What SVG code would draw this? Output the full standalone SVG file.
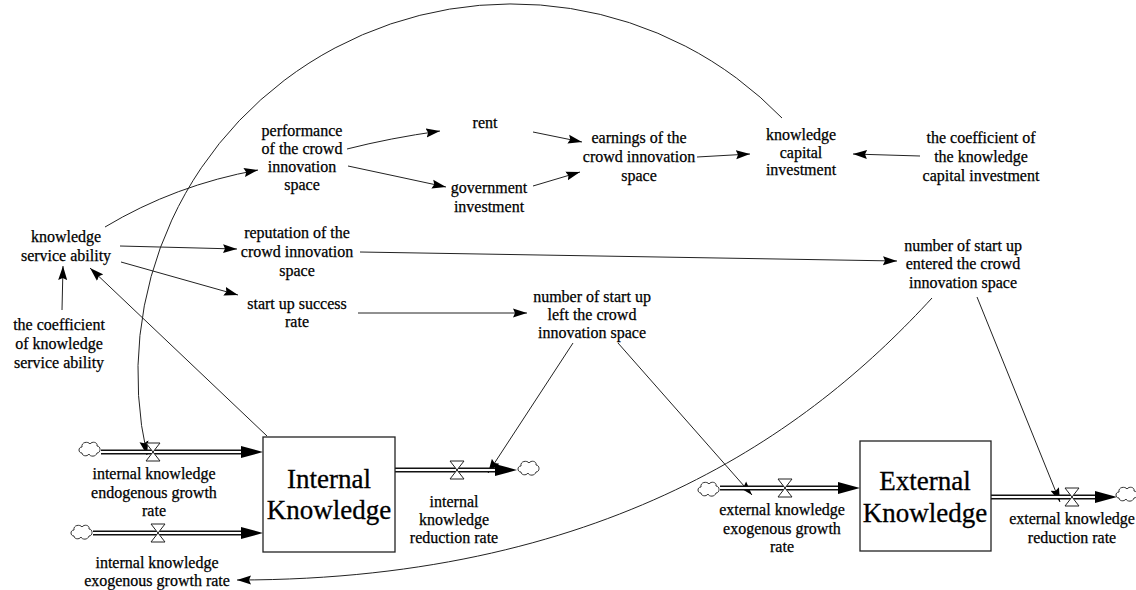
<svg xmlns="http://www.w3.org/2000/svg" width="1136" height="590" viewBox="0 0 1136 590">
<style>
text{font-family:"Liberation Serif","Times New Roman",serif;fill:#000;text-anchor:middle;stroke:#000;stroke-width:0.25}
.t{font-size:16px}
.big{font-size:27px;stroke-width:0.3}
.c{fill:none;stroke:#222;stroke-width:1}
.box{fill:#fff;stroke:#222;stroke-width:1.3}
.pipeo{fill:none;stroke:#111;stroke-width:5}
.pipei{fill:none;stroke:#fff;stroke-width:1.8}
.fa{fill:#000}
.valve{fill:#fff;stroke:#222;stroke-width:1}
.cloud{fill:#fff;stroke:#333;stroke-width:1}
</style>
<defs>
<marker id="a" markerWidth="14" markerHeight="10" refX="14" refY="5" orient="auto" markerUnits="userSpaceOnUse"><path d="M0,0.5 L14,5 L0,9.5 L2,5 Z" fill="#000"/></marker>
<path id="cl" class="cloud" d="M-8,4 C-12,4 -12,-2 -8,-2 C-9,-7 -2,-8 0,-5 C2,-8 8,-7 7,-3 C11,-3 11,4 7,4 C6,8 0,8 -1,5 C-3,8 -8,7 -8,4 Z"/>
<path id="vl" class="valve" d="M-7,-9 H7 L-7,9 H7 Z"/>
</defs>

<g id="connectors">
<path class="c" marker-end="url(#a)" d="M782,118 A374,370 0 0 0 147,455"/>
<path class="c" marker-end="url(#a)" d="M932,298 C820,420 620,580 237,580"/>
<path class="c" marker-end="url(#a)" d="M105,227 Q175,185 258,170"/>
<path class="c" marker-end="url(#a)" d="M120,246 L237,249"/>
<path class="c" marker-end="url(#a)" d="M121,262 L238,295"/>
<path class="c" marker-end="url(#a)" d="M62,310 L63,266"/>
<path class="c" marker-end="url(#a)" d="M267,436 L90,268"/>
<path class="c" marker-end="url(#a)" d="M347,149 Q390,138 440,131"/>
<path class="c" marker-end="url(#a)" d="M348,166 Q395,176 446,187"/>
<path class="c" marker-end="url(#a)" d="M533,132 L582,142"/>
<path class="c" marker-end="url(#a)" d="M533,186 L580,172"/>
<path class="c" marker-end="url(#a)" d="M697,157 L750,154"/>
<path class="c" marker-end="url(#a)" d="M920,156 L853,154"/>
<path class="c" marker-end="url(#a)" d="M360,252 L897,261"/>
<path class="c" marker-end="url(#a)" d="M358,313 L527,313"/>
<path class="c" marker-end="url(#a)" d="M573,343 L488,473"/>
<path class="c" marker-end="url(#a)" d="M618,343 L752,495"/>
<path class="c" marker-end="url(#a)" d="M977,297 L1060,502"/>
</g>

<g id="flow-internal-endogenous">
<use href="#cl" x="90" y="449"/>
<path class="pipeo" d="M101,452 H245"/><path class="pipei" d="M101,452 H245"/>
<polygon class="fa" points="241,446 263,452 241,458"/>
<use href="#vl" x="153" y="452"/>
<text class="t"><tspan x="154" y="479">internal knowledge</tspan><tspan x="154" y="498">endogenous growth</tspan><tspan x="154" y="516">rate</tspan></text>
</g>
<g id="flow-internal-exogenous">
<use href="#cl" x="82" y="532"/>
<path class="pipeo" d="M93,533 H245"/><path class="pipei" d="M93,533 H245"/>
<polygon class="fa" points="241,527 263,533 241,539"/>
<use href="#vl" x="158" y="533"/>
<text class="t"><tspan x="157" y="568">internal knowledge</tspan><tspan x="157" y="586">exogenous growth rate</tspan></text>
</g>
<g id="flow-internal-reduction">
<path class="pipeo" d="M395,470 H500"/><path class="pipei" d="M395,470 H500"/>
<polygon class="fa" points="495,464 517,470 495,476"/>
<use href="#cl" x="529" y="468"/>
<use href="#vl" x="457" y="470"/>
<text class="t"><tspan x="454" y="507">internal</tspan><tspan x="454" y="525">knowledge</tspan><tspan x="454" y="543">reduction rate</tspan></text>
</g>
<g id="flow-external-exogenous">
<use href="#cl" x="709" y="489"/>
<path class="pipeo" d="M720,488 H842"/><path class="pipei" d="M720,488 H842"/>
<polygon class="fa" points="838,482 860,488 838,494"/>
<use href="#vl" x="785" y="488"/>
<text class="t"><tspan x="782" y="515">external knowledge</tspan><tspan x="782" y="534">exogenous growth</tspan><tspan x="782" y="552">rate</tspan></text>
</g>
<g id="flow-external-reduction">
<path class="pipeo" d="M991,497 H1100"/><path class="pipei" d="M991,497 H1100"/>
<polygon class="fa" points="1095,491 1117,497 1095,503"/>
<use href="#cl" x="1127" y="494"/>
<use href="#vl" x="1072" y="497"/>
<text class="t"><tspan x="1072" y="524">external knowledge</tspan><tspan x="1072" y="543">reduction rate</tspan></text>
</g>

<g id="internal-knowledge">
<rect class="box" x="263" y="437" width="132" height="115"/>
<text class="big"><tspan x="329" y="488">Internal</tspan><tspan x="329" y="519">Knowledge</tspan></text>
</g>
<g id="external-knowledge">
<rect class="box" x="860" y="441" width="131" height="110"/>
<text class="big"><tspan x="925" y="490">External</tspan><tspan x="925" y="522">Knowledge</tspan></text>
</g>

<g id="performance"><text class="t"><tspan x="302" y="136">performance</tspan><tspan x="302" y="154">of the crowd</tspan><tspan x="302" y="172">innovation</tspan><tspan x="302" y="190">space</tspan></text></g>
<g id="rent"><text class="t"><tspan x="485" y="128">rent</tspan></text></g>
<g id="government-investment"><text class="t"><tspan x="489" y="193">government</tspan><tspan x="489" y="212">investment</tspan></text></g>
<g id="earnings"><text class="t"><tspan x="639" y="143">earnings of the</tspan><tspan x="639" y="162">crowd innovation</tspan><tspan x="639" y="181">space</tspan></text></g>
<g id="knowledge-capital-investment"><text class="t"><tspan x="801" y="140">knowledge</tspan><tspan x="801" y="158">capital</tspan><tspan x="801" y="175">investment</tspan></text></g>
<g id="coef-kci"><text class="t"><tspan x="981" y="143">the coefficient of</tspan><tspan x="981" y="162">the knowledge</tspan><tspan x="981" y="181">capital investment</tspan></text></g>
<g id="knowledge-service-ability"><text class="t"><tspan x="66" y="242">knowledge</tspan><tspan x="66" y="261">service ability</tspan></text></g>
<g id="coef-ksa"><text class="t"><tspan x="59" y="330">the coefficient</tspan><tspan x="59" y="349">of knowledge</tspan><tspan x="59" y="368">service ability</tspan></text></g>
<g id="reputation"><text class="t"><tspan x="297" y="238">reputation of the</tspan><tspan x="297" y="257">crowd innovation</tspan><tspan x="297" y="276">space</tspan></text></g>
<g id="startup-success"><text class="t"><tspan x="297" y="309">start up success</tspan><tspan x="297" y="327">rate</tspan></text></g>
<g id="startup-left"><text class="t"><tspan x="592" y="302">number of start up</tspan><tspan x="592" y="320">left the crowd</tspan><tspan x="592" y="338">innovation space</tspan></text></g>
<g id="startup-entered"><text class="t"><tspan x="963" y="251">number of start up</tspan><tspan x="963" y="269">entered the crowd</tspan><tspan x="963" y="288">innovation space</tspan></text></g>
</svg>
